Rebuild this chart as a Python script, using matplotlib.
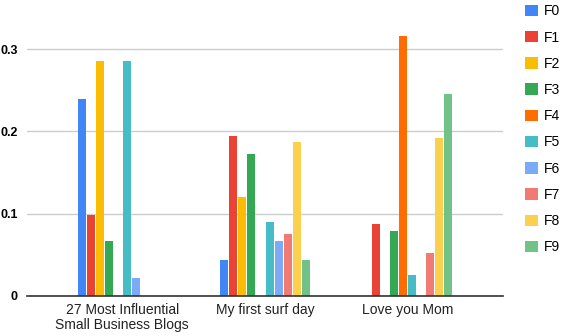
import numpy as np
import matplotlib
matplotlib.use('Agg')
import matplotlib.pyplot as plt
from matplotlib.patches import Patch

plt.rcParams['font.family'] = ['Liberation Sans', 'DejaVu Sans']

categories = ['27 Most Influential\nSmall Business Blogs', 'My first surf day', 'Love you Mom']
series = ['F0', 'F1', 'F2', 'F3', 'F4', 'F5', 'F6', 'F7', 'F8', 'F9']
values = [
    [0.240, 0.044, 0.0],     # F0
    [0.098, 0.194, 0.0875],  # F1
    [0.285, 0.120, 0.0],     # F2
    [0.067, 0.172, 0.079],   # F3
    [0.0, 0.0, 0.316],       # F4
    [0.285, 0.090, 0.0255],  # F5
    [0.022, 0.067, 0.0],     # F6
    [0.0, 0.075, 0.052],     # F7
    [0.0, 0.187, 0.192],     # F8
    [0.0, 0.044, 0.245],     # F9
]
yticks = [0, 0.1, 0.2, 0.3]
colors = ['#4285F4', '#EA4335', '#FBBC04', '#34A853', '#FF6D01',
          '#46BDC6', '#7BAAF7', '#F07B72', '#FCD04F', '#71C287']

fig = plt.figure(figsize=(5.62, 3.36), dpi=100)
ax = fig.add_axes([27 / 562, 40 / 336, 476 / 562, 288 / 336])

x = np.arange(len(categories))
step = 9 / 142.5
width = 8 / 142.5
for i, s in enumerate(series):
    off = (i - 4.5) * step
    ax.bar(x + off, values[i], width=width, color=colors[i], zorder=3)

ax.set_xlim(-0.667, 2.667)
ax.set_ylim(0, 0.35)
ax.set_yticks(yticks)
ax.set_yticklabels(['0', '0.1', '0.2', '0.3'], fontsize=9, fontweight='bold')
ax.set_xticks(x)
ax.set_xticklabels(categories, fontsize=10, color='#222222', linespacing=1.1)
ax.tick_params(axis='both', length=0)
ax.tick_params(axis='x', pad=5)
ax.tick_params(axis='y', pad=6.5)
ax.grid(axis='y', color='#cccccc', linewidth=1, zorder=0)
for sp in ['top', 'right', 'left']:
    ax.spines[sp].set_visible(False)
ax.spines['bottom'].set_color('#333333')
ax.spines['bottom'].set_linewidth(1.2)
ax.spines['bottom'].set_zorder(4)

handles = [Patch(facecolor=c, edgecolor='none') for c in colors]
fig.legend(handles, series, loc='upper left', bbox_to_anchor=(517 / 562, 1.012),
           frameon=False, fontsize=10, handlelength=0.9, handleheight=0.9,
           labelspacing=0.88, handletextpad=0.4, borderaxespad=0.2)

fig.savefig('out.png', dpi=100)
